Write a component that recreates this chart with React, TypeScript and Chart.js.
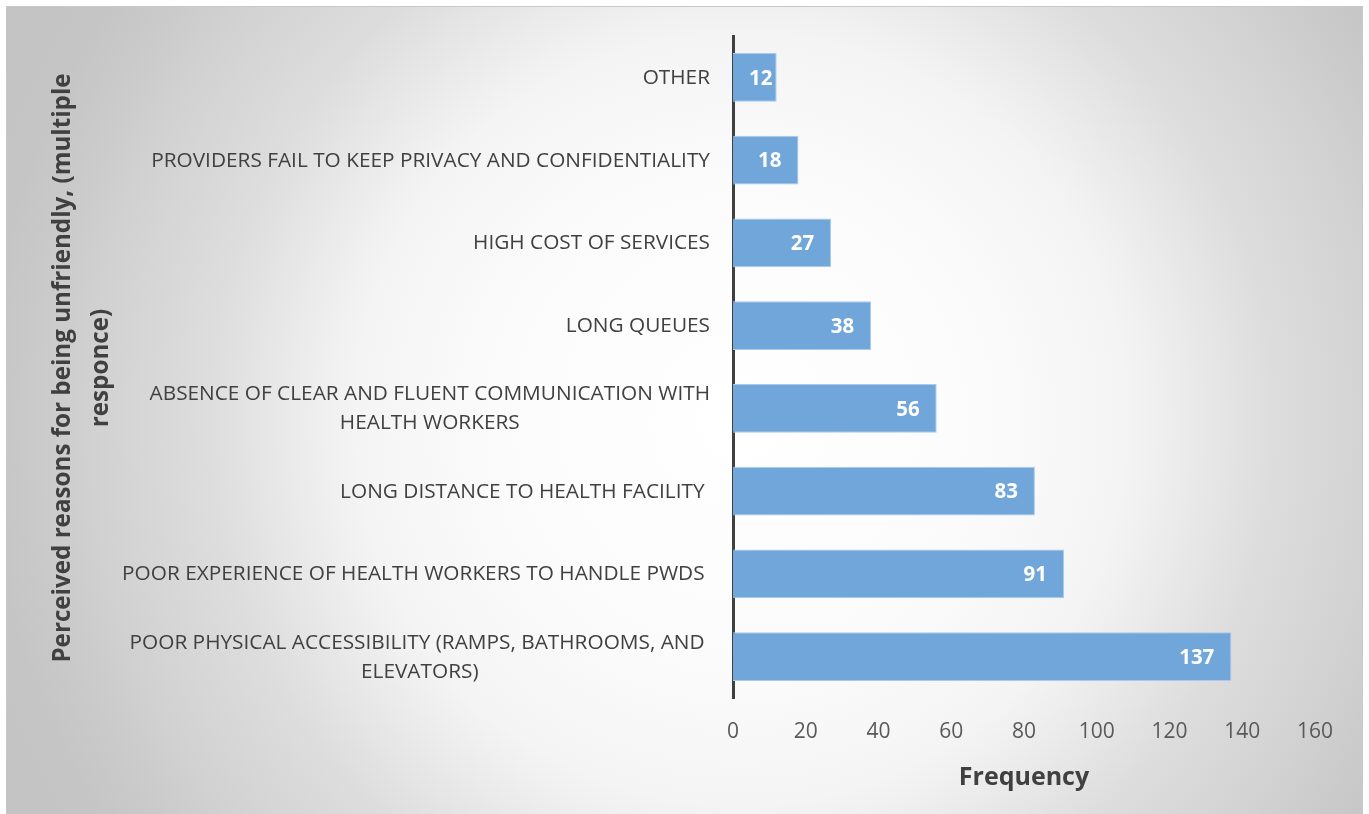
import React, { useEffect, useRef } from 'react';
import { Chart, registerables } from 'chart.js';

Chart.register(...registerables);

const categories: (string | string[])[] = [
  'OTHER',
  'PROVIDERS FAIL TO KEEP PRIVACY AND CONFIDENTIALITY',
  'HIGH COST OF SERVICES',
  'LONG QUEUES',
  ['ABSENCE OF CLEAR AND FLUENT COMMUNICATION WITH', 'HEALTH WORKERS'],
  'LONG DISTANCE TO HEALTH FACILITY ',
  'POOR EXPERIENCE OF HEALTH WORKERS TO HANDLE PWDS ',
  ['POOR PHYSICAL ACCESSIBILITY (RAMPS, BATHROOMS, AND ', 'ELEVATORS)'],
];
const frequencies = [12, 18, 27, 38, 56, 83, 91, 137];
const xTickValues = [0, 20, 40, 60, 80, 100, 120, 140, 160];
const xAxisTitle = 'Frequency';
const yAxisTitle = ['Perceived reasons for being unfriendly, (multiple', 'responce)'];

const FONT = "'Open Sans', 'DejaVu Sans', sans-serif";

const backgroundPlugin = {
  id: 'bgPanel',
  beforeDraw(chart: any) {
    const ctx = chart.ctx as CanvasRenderingContext2D;
    const W = chart.width;
    const H = chart.height;
    ctx.save();
    ctx.fillStyle = '#ffffff';
    ctx.fillRect(0, 0, W, H);
    const g = ctx.createRadialGradient(740, 420, 0, 740, 420, 820);
    g.addColorStop(0, '#ffffff');
    g.addColorStop(0.3, '#fbfbfb');
    g.addColorStop(0.47, '#f4f4f4');
    g.addColorStop(0.52, '#eeeeee');
    g.addColorStop(0.65, '#dddddd');
    g.addColorStop(0.78, '#d2d2d2');
    g.addColorStop(0.86, '#cacaca');
    g.addColorStop(0.92, '#c5c5c5');
    g.addColorStop(1, '#c4c4c4');
    ctx.fillStyle = g;
    ctx.fillRect(6, 6, 1357, H - 6);
    ctx.strokeStyle = '#c8c8c8';
    ctx.lineWidth = 1;
    ctx.strokeRect(6.5, 6.5, 1356, H);
    ctx.restore();
  },
};

const labelsPlugin = {
  id: 'customLabels',
  afterDatasetsDraw(chart: any) {
    const ctx = chart.ctx as CanvasRenderingContext2D;
    const yScale = chart.scales.y;
    const labelSize = 20.8;
    const rightEdge = 710;
    const lineGap = 29;
    ctx.save();
    // category labels
    ctx.font = `${labelSize}px ${FONT}`;
    ctx.fillStyle = '#404040';
    ctx.textAlign = 'center';
    ctx.textBaseline = 'alphabetic';
    categories.forEach((lab, i) => {
      const lines = Array.isArray(lab) ? lab : [lab];
      const yc = yScale.getPixelForValue(i);
      const maxW = Math.max(...lines.map((l) => ctx.measureText(l).width));
      const cx = rightEdge - maxW / 2;
      const startY = yc - ((lines.length - 1) * lineGap) / 2 - 1;
      lines.forEach((l, k) => {
        ctx.fillText(l, cx, startY + k * lineGap + labelSize * 0.357);
      });
    });

    // data labels
    const meta = chart.getDatasetMeta(0);
    const dSize = 20.5;
    ctx.font = `bold ${dSize}px ${FONT}`;
    ctx.fillStyle = '#ffffff';
    ctx.textAlign = 'left';
    meta.data.forEach((bar: any, i: number) => {
      const { x, y, base } = bar.getProps(['x', 'y', 'base'], true);
      const txt = String(frequencies[i]);
      const w = ctx.measureText(txt).width;
      let left = x - 17 - w;
      if (left < base + 16) left = base + 16;
      ctx.fillText(txt, left, y + dSize * 0.357);
    });

    // y axis title (rotated, two lines)
    ctx.font = `bold 24.2px ${FONT}`;
    ctx.fillStyle = '#404040';
    ctx.textAlign = 'center';
    const baselines = [70, 108];
    yAxisTitle.forEach((t, k) => {
      ctx.save();
      ctx.translate(baselines[k], 368);
      ctx.rotate(-Math.PI / 2);
      ctx.fillText(t, 0, 0);
      ctx.restore();
    });
    ctx.restore();
  },
};

export default function App() {
  const canvasRef = useRef<HTMLCanvasElement | null>(null);

  useEffect(() => {
    document.body.style.margin = '0';
    const canvas = canvasRef.current;
    if (!canvas) return;
    const chart = new Chart(canvas, {
      type: 'bar',
      data: {
        labels: categories as any,
        datasets: [
          {
            data: frequencies,
            backgroundColor: '#70a6da',
            borderColor: '#a9cbeb',
            borderWidth: 1,
            barPercentage: 0.59,
            categoryPercentage: 1,
          },
        ],
      },
      options: {
        indexAxis: 'y',
        responsive: false,
        animation: false,
        devicePixelRatio: 1,
        layout: { padding: { left: 733, right: 54, top: 36, bottom: 0 } },
        plugins: {
          legend: { display: false },
          tooltip: { enabled: false },
        },
        scales: {
          x: {
            type: 'linear',
            min: 0,
            max: 160,
            afterBuildTicks: (s: any) => {
              s.ticks = xTickValues.map((v) => ({ value: v }));
            },
            grid: { display: false, drawTicks: false },
            border: { display: false },
            ticks: {
              padding: 21,
              color: '#595959',
              font: { family: FONT, size: 21 },
              maxRotation: 0,
            },
            title: {
              display: true,
              text: xAxisTitle,
              color: '#404040',
              font: { family: FONT, size: 25, weight: 'bold' },
              padding: { top: 0, bottom: 21 },
            },
            afterFit: (s: any) => {
              s.height = 116;
            },
          },
          y: {
            type: 'category',
            z: 1,
            grid: { display: false, drawTicks: false },
            border: { display: true, color: '#404040', width: 3 },
            ticks: { display: false },
            afterFit: (s: any) => {
              s.width = 0;
            },
          },
        },
      } as any,
      plugins: [backgroundPlugin, labelsPlugin],
    });
    return () => chart.destroy();
  }, []);

  return (
    <div style={{ width: 1369, height: 814 }}>
      <canvas ref={canvasRef} width={1369} height={814} style={{ display: 'block' }} />
    </div>
  );
}
